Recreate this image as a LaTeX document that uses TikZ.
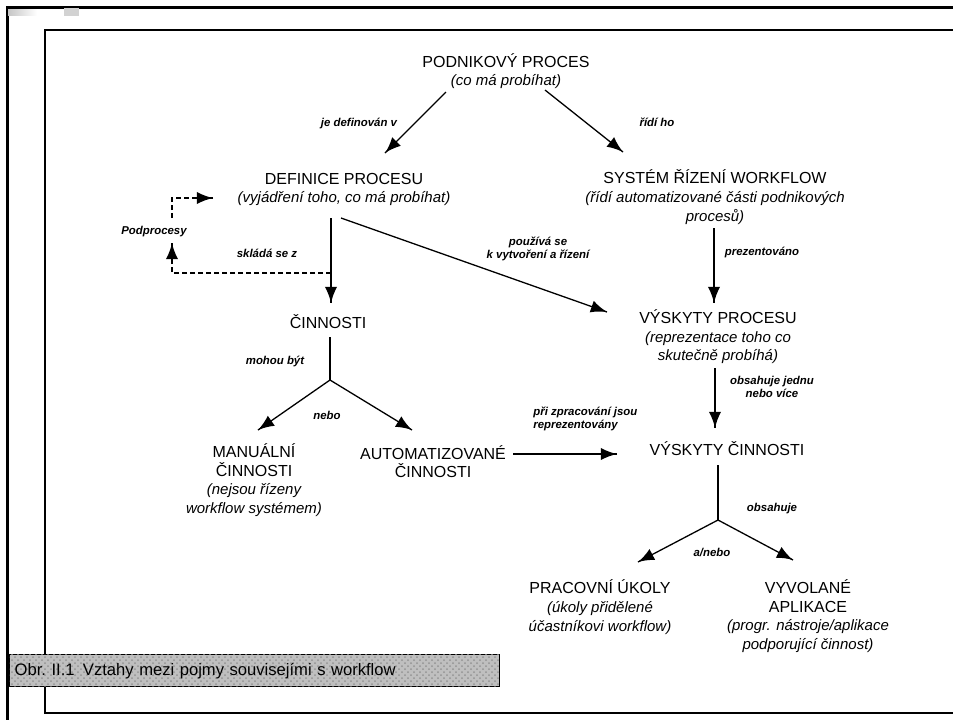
\documentclass[tikz,border=0pt]{standalone}
\usepackage{fontspec}
\setmainfont{Liberation Sans}
\usetikzlibrary{calc,decorations.markings}
\usetikzlibrary{patterns}
\usetikzlibrary{arrows}

\newcommand{\pozn}[1]{{\fontsize{7.5}{9.3}\selectfont\itshape #1}}

\begin{document}
\begin{tikzpicture}[x=0.5pt,y=-0.5pt,
  pojem/.style={align=center,inner sep=0pt,font=\fontsize{8}{9.3}\selectfont},
  popisek/.style={align=center,inner sep=0pt,font=\fontsize{5.7}{6.5}\selectfont\bfseries\itshape},
  sipka/.style={line width=0.65pt,decoration={markings,
      mark=at position 1 with {\arrow[scale=1.7]{latex}}},postaction={decorate}},
  carka/.style={dash pattern=on 2.5pt off 1.5pt}]
\fill[white] (0,0) rectangle (953,720);
\useasboundingbox (0,0) rectangle (953,720);
% ramecek
\draw[line width=1.5pt] (953,7) -- (7,7) -- (7,720);
\draw[line width=0.8pt] (953,30) -- (45,30) -- (45,713) -- (953,713);
\shade[left color=gray!45,right color=white] (8,9) rectangle (37,15);
\fill[gray!35] (64,8) rectangle (79,16);

\node[pojem] (proc) at (506,71) {PODNIKOVÝ PROCES\\\pozn{(co má probíhat)}};
\node[pojem] (defin) at (344,189.5) {DEFINICE PROCESU\\\pozn{(vyjádření toho, co má probíhat)}};
\node[pojem] (wfms) at (715,197) {SYSTÉM ŘÍZENÍ WORKFLOW\\\pozn{(řídí automatizované části podnikových}\\\pozn{procesů)}};
\node[pojem] (cinn) at (328,322) {ČINNOSTI};
\node[pojem] (vproc) at (718,337) {VÝSKYTY PROCESU\\\pozn{(reprezentace toho co}\\\pozn{skutečně probíhá)}};
\node[pojem] (manual) at (254,480) {MANUÁLNÍ\\ČINNOSTI\\\pozn{(nejsou řízeny}\\\pozn{workflow systémem)}};
\node[pojem] (auto) at (433,461.5) {AUTOMATIZOVANÉ\\ČINNOSTI};
\node[pojem] (vcinn) at (727,449) {VÝSKYTY ČINNOSTI};
\node[pojem] (ukoly) at (600,607) {PRACOVNÍ ÚKOLY\\\pozn{(úkoly přidělené}\\\pozn{účastníkovi workflow)}};
\node[pojem] (apl) at (808,616) {VYVOLANÉ\\APLIKACE\\\pozn{(progr. nástroje/aplikace}\\\pozn{podporující činnost)}};

% popisky sipek
\node[popisek] (l1) at (359,123) {je definován v};
\node[popisek] (l2) at (657,122) {řídí ho};
\node[popisek] (podpr) at (154,232) {Podprocesy};
\node[popisek] (l3) at (267,253) {skládá se z};
\node[popisek] (l4) at (538,248.5) {používá se\\k vytvoření a řízení};
\node[popisek] (l5) at (762,252) {prezentováno};
\node[popisek] (l6) at (275,361) {mohou být};
\node[popisek] (l7) at (327,415) {nebo};
\node[popisek] (l8) at (772,387) {obsahuje jednu\\nebo více};
\node[popisek,anchor=west,align=left] (l9) at (533,419) {při zpracování jsou\\reprezentovány};
\node[popisek] (l10) at (772,509) {obsahuje};
\node[popisek] (l11) at (712,552) {a/nebo};

\coordinate (cbr) at (330,380); % rozvetveni
\coordinate (vbr) at (718,520); % rozvetveni
\coordinate (skl) at (331,273);

\draw[sipka] ($(proc)+(-60,21)$) -- ($(defin)+(41,-36.5)$);
\draw[sipka] ($(proc)+(39,19)$) -- ($(wfms)+(-92,-45)$);
\draw[sipka] ($(defin)+(-13,28.5)$) -- ($(cinn)+(3,-19)$);
\draw[sipka] ($(defin)+(-3,28.5)$) -- ($(vproc)+(-111,-25)$);
\draw[sipka] ($(wfms)+(-1,31)$) -- ($(vproc)+(-4,-34)$);
\draw[sipka] ($(vproc)+(-3,31)$) -- ($(vcinn)+(-12,-21)$);
\draw[sipka] ($(auto)+(80,-7.5)$) -- ($(vcinn)+(-110,5)$);
% vetveni
\draw[line width=0.65pt] ($(cinn)+(2,15)$) -- (cbr);
\draw[sipka] (cbr) -- ($(manual)+(4,-50)$);
\draw[sipka] (cbr) -- ($(auto)+(-21,-31.5)$);
\draw[line width=0.65pt] ($(vcinn)+(-9,16)$) -- (vbr);
\draw[sipka] (vbr) -- ($(ukoly)+(38,-45)$);
\draw[sipka] (vbr) -- ($(apl)+(-15,-56)$);
% podprocesy
\draw[sipka,carka] (skl) -| ($(podpr)+(18,11)$);
\draw[sipka,carka] ($(podpr)+(18,-14)$) |- ($(defin)+(-131,8.5)$);

\node[anchor=north west,draw,line width=0.7pt,fill=gray!50,
  postaction={pattern=crosshatch dots,pattern color=gray!85},
  text width=240pt,inner xsep=2.5pt,minimum height=16pt,
  font=\fontsize{8.3}{9}\selectfont\frenchspacing] (obr) at (9,654)
  {Obr. II.1\enspace Vztahy mezi pojmy souvisejími s workflow};
\end{tikzpicture}
\end{document}
